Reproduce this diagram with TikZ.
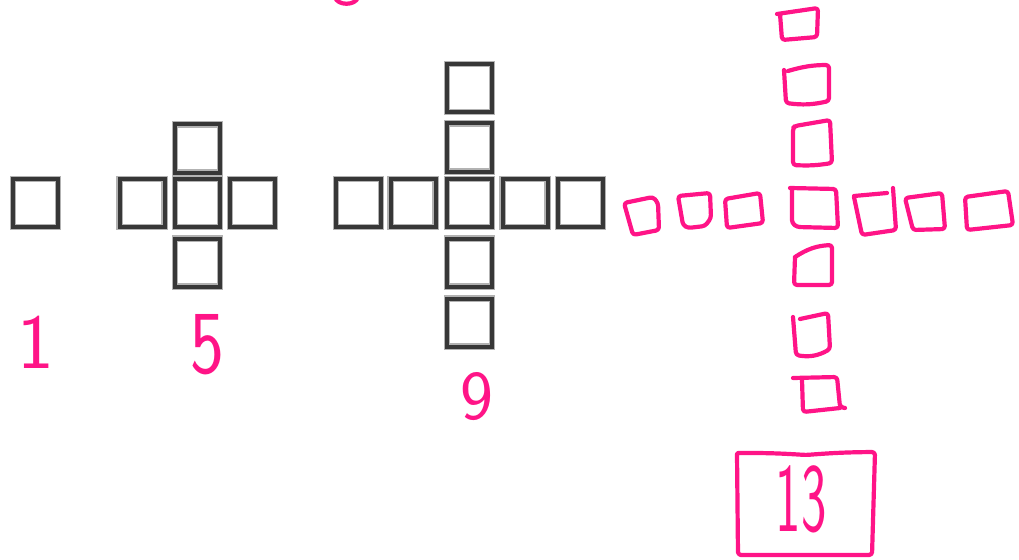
\documentclass[tikz,border=0pt]{standalone}
\definecolor{hpink}{RGB}{255,20,135}
\definecolor{gdark}{RGB}{55,55,55}
\definecolor{glight}{RGB}{178,178,178}
\begin{document}
\begin{tikzpicture}[x=1pt,y=-1pt,
  gsq/.style={draw=gdark, line width=4, preaction={draw=glight, line width=6.5},
              minimum width=45, minimum height=48, inner sep=0},
  pk/.style={draw=hpink, line width=4.2, line cap=round, line join=round, rounded corners=3},
  lbl/.style={text=hpink, inner sep=0, transform shape}]
\useasboundingbox (0,0) rectangle (1019,559);
\clip (0,0) rectangle (1019,559);

% figure 1
\node[gsq] (a1) at (35.5,203) {};
% figure 5
\node[gsq] (b1) at (142,203) {};
\node[gsq] (b2) at (197.5,203) {};
\node[gsq] (b3) at (252.5,203) {};
\node[gsq] (b4) at (197.5,148.5) {};
\node[gsq] (b5) at (197.5,262.5) {};
% figure 9
\node[gsq] (c1) at (358.5,203) {};
\node[gsq] (c2) at (413,203) {};
\node[gsq] (c3) at (469.5,203) {};
\node[gsq] (c4) at (525,203) {};
\node[gsq] (c5) at (580.5,203) {};
\node[gsq] (c6) at (469.5,88) {};
\node[gsq] (c7) at (469.5,147.5) {};
\node[gsq] (c8) at (469.5,262.5) {};
\node[gsq] (c9) at (469.5,322.5) {};

% pink hand-drawn squares: vertical column
\draw[pk] (777,14) -- (818,8) -- (817,37) -- (782,40) -- (780,14);
\draw[pk] (788,71) to[bend left=8] (829,65) -- (829,101) to[bend left=10] (786,103) -- (784,70);
\draw[pk] (795,126) -- (830,120) -- (832,163) to[bend left=6] (793,165) -- (793,128) -- cycle;
\draw[pk] (790,188) -- (836,189) -- (838,228) -- (797,227) -- (792,223) -- (792,190);
\draw[pk] (795,257) to[bend left=15] (832,245) -- (832,285) -- (794,285) -- (795,257);
\draw[pk] (800,319) -- (828,313) -- (830,349) to[bend left=20] (796,355) -- (793,317);
\draw[pk] (793,378) -- (837,377) -- (840,407) -- (845,408);
\draw[pk] (802,380) -- (803,412) -- (840,408);
% pink hand-drawn squares: horizontal row
\draw[pk] (624,203) -- (653,197) -- (658,203) -- (659,230) -- (633,235) -- cycle;
\draw[pk] (678,196) -- (710,193) -- (711,218) -- (705,226) -- (688,228) -- (683,225) -- cycle;
\draw[pk] (725,199) -- (760,193) -- (763,223) -- (727,228) -- cycle;
\draw[pk] (854,196) -- (887,193);
\draw[pk] (893,188) -- (896,230) -- (862,235) -- (854,197);
\draw[pk] (905,198) -- (942,193) -- (945,229) -- (913,230) -- cycle;
\draw[pk] (965,197) -- (1008,191) -- (1013,225) -- (967,230) -- cycle;
% box around 13
\draw[pk] (738,453) to[bend left=2] (806,455) to[bend left=2] (875,452) -- (872,555) -- (738,555) -- (737,454);
% partial mark at the top
\draw[pk] (335,-3) .. controls (337,6) and (356,6) .. (358,-3);

% labels
\node[lbl, font=\sffamily\fontsize{78}{78}\selectfont] (t1) at (36,342) {1};
\node[lbl, xscale=0.8, font=\sffamily\fontsize{90}{90}\selectfont] (t5) at (207,345) {5};
\node[lbl, font=\sffamily\fontsize{70}{70}\selectfont] (t9) at (477,397) {9};
\node[lbl, xscale=0.55, font=\sffamily\fontsize{98}{98}\selectfont] (t13) at (801,499) {13};
\end{tikzpicture}
\end{document}
